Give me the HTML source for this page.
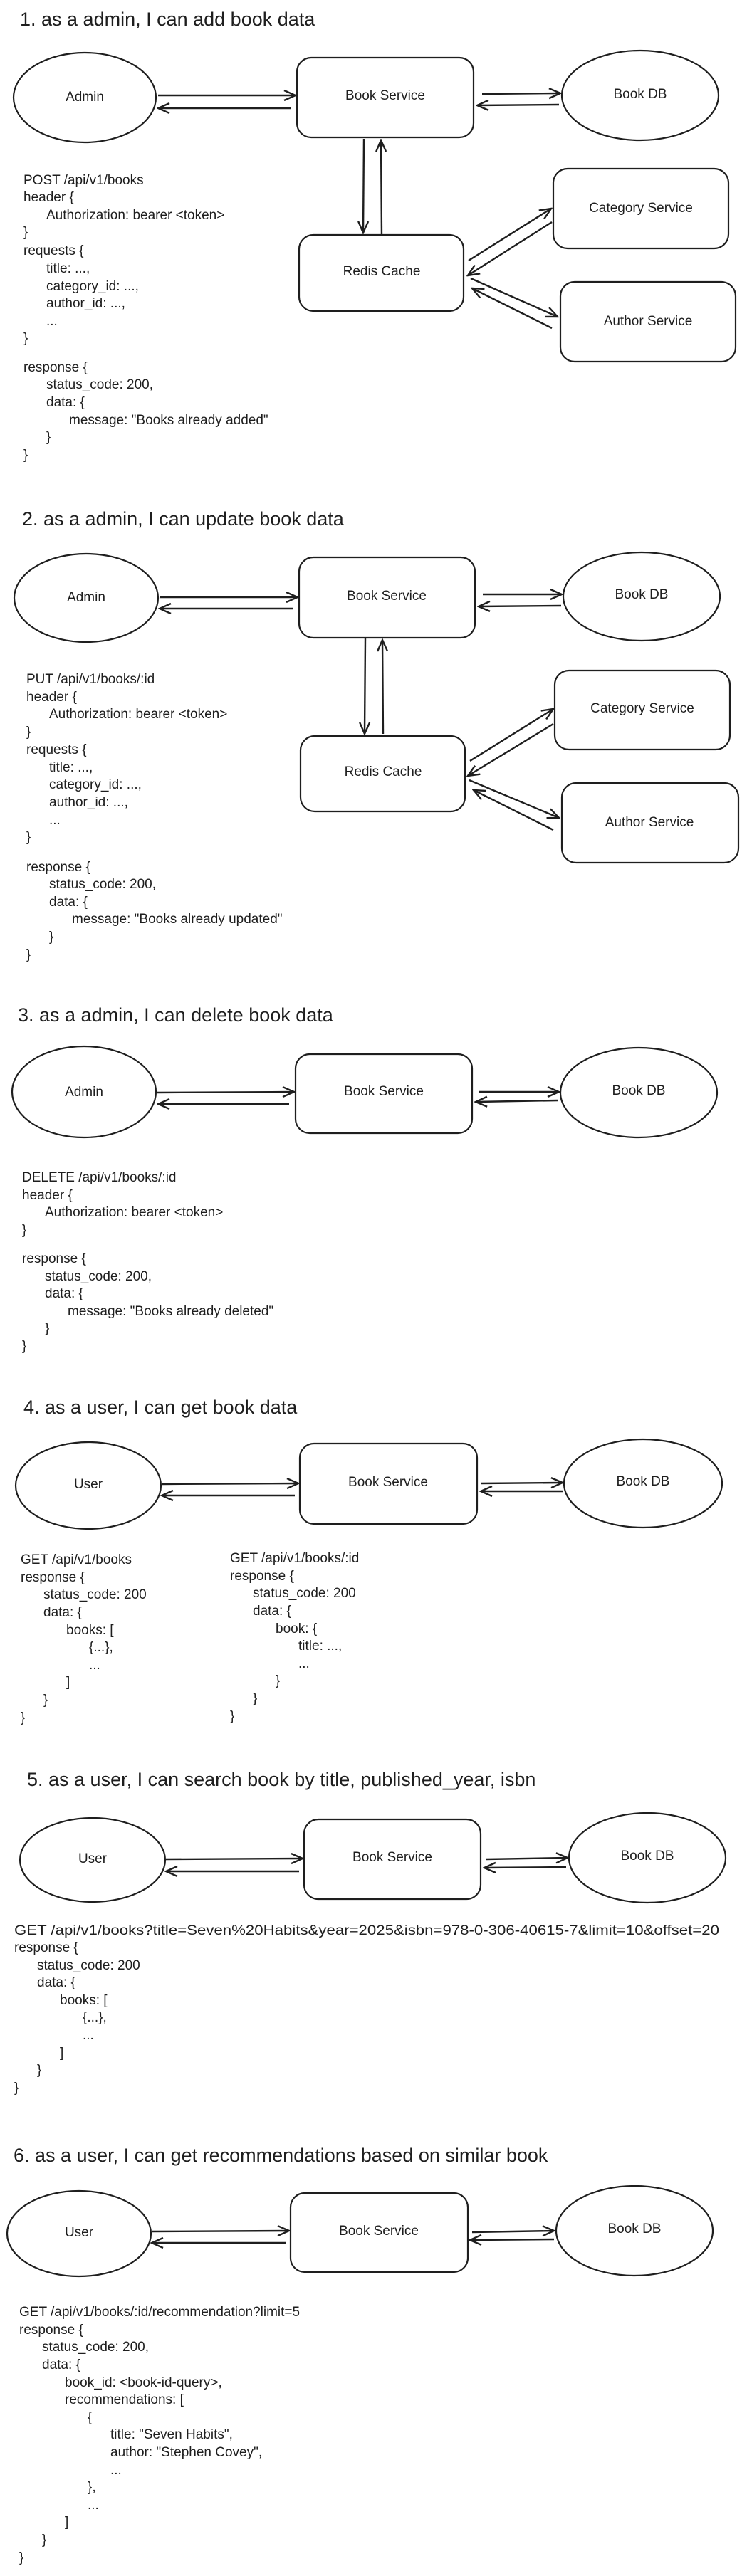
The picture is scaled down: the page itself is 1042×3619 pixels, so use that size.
<!DOCTYPE html>
<html><head><meta charset="utf-8"><style>
html,body{margin:0;padding:0;background:#fff;}
svg{display:block;}
.t{font-family:"Liberation Sans",sans-serif;font-size:27px;fill:#1e1e1e;}
.c{font-family:"Liberation Sans",sans-serif;font-size:19px;fill:#1e1e1e;}
.n{font-family:"Liberation Sans",sans-serif;font-size:19px;fill:#1e1e1e;text-anchor:middle;dominant-baseline:middle;}
.s{fill:none;stroke:#1e1e1e;stroke-width:2.2;}
.a{fill:none;stroke:#1e1e1e;stroke-width:2.4;marker-end:url(#ah2);}
</style></head><body>
<svg width="1042" height="3619" viewBox="0 0 1042 3619" xmlns="http://www.w3.org/2000/svg">
<defs>
<marker id="ah2" viewBox="0 0 20 20" refX="18" refY="10" markerWidth="20" markerHeight="20" markerUnits="userSpaceOnUse" orient="auto"><path d="M2,3 L18,10 L2,17" fill="none" stroke="#1e1e1e" stroke-width="2.4"/></marker></defs>

<!-- Section 1 -->
<text class="t" x="28" y="36">1. as a admin, I can add book data</text>
<ellipse class="s" cx="119" cy="137" rx="100" ry="63"/><text class="n" x="119" y="137">Admin</text>
<rect class="s" x="417" y="81" width="248" height="112" rx="20"/><text class="n" x="541" y="135">Book Service</text>
<ellipse class="s" cx="899" cy="134" rx="110" ry="63"/><text class="n" x="899" y="133">Book DB</text>
<line class="a" x1="222" y1="134" x2="415" y2="134"/>
<line class="a" x1="408" y1="152" x2="222" y2="152"/>
<line class="a" x1="677" y1="132" x2="787" y2="131"/>
<line class="a" x1="785" y1="147" x2="670" y2="148"/>
<line class="a" x1="511" y1="195" x2="510" y2="327"/>
<line class="a" x1="536" y1="329" x2="535" y2="197"/>
<rect class="s" x="420" y="330" width="231" height="107" rx="20"/><text class="n" x="536" y="382">Redis Cache</text>
<rect class="s" x="777" y="237" width="246" height="112" rx="20"/><text class="n" x="900" y="293">Category Service</text>
<rect class="s" x="787" y="396" width="246" height="112" rx="20"/><text class="n" x="910" y="452">Author Service</text>
<line class="a" x1="658" y1="366" x2="774" y2="293"/>
<line class="a" x1="775" y1="312" x2="657" y2="387"/>
<line class="a" x1="661" y1="391" x2="783" y2="445"/>
<line class="a" x1="775" y1="461" x2="663" y2="405"/>
<g class="c">
<text x="33" y="259">POST /api/v1/books</text>
<text x="33" y="283">header {</text>
<text x="65" y="308">Authorization: bearer &lt;token&gt;</text>
<text x="33" y="332">}</text>
<text x="33" y="358">requests {</text>
<text x="65" y="383">title: ...,</text>
<text x="65" y="408">category_id: ...,</text>
<text x="65" y="432">author_id: ...,</text>
<text x="65" y="457">...</text>
<text x="33" y="481">}</text>
<text x="33" y="522">response {</text>
<text x="65" y="546">status_code: 200,</text>
<text x="65" y="571">data: {</text>
<text x="97" y="596">message: "Books already added"</text>
<text x="65" y="620">}</text>
<text x="33" y="645">}</text>
</g>

<!-- Section 2 -->
<text class="t" x="31" y="738">2. as a admin, I can update book data</text>
<ellipse class="s" cx="121" cy="840" rx="101" ry="62"/><text class="n" x="121" y="840">Admin</text>
<rect class="s" x="420" y="783" width="247" height="113" rx="20"/><text class="n" x="543" y="838">Book Service</text>
<ellipse class="s" cx="901" cy="838" rx="110" ry="62"/><text class="n" x="901" y="836">Book DB</text>
<line class="a" x1="224" y1="839" x2="418" y2="839"/>
<line class="a" x1="411" y1="855" x2="224" y2="855"/>
<line class="a" x1="678" y1="835" x2="789" y2="835"/>
<line class="a" x1="788" y1="851" x2="672" y2="852"/>
<line class="a" x1="513" y1="897" x2="512" y2="1031"/>
<line class="a" x1="538" y1="1031" x2="537" y2="899"/>
<rect class="s" x="422" y="1034" width="231" height="106" rx="20"/><text class="n" x="538" y="1085">Redis Cache</text>
<rect class="s" x="779" y="942" width="246" height="111" rx="20"/><text class="n" x="902" y="996">Category Service</text>
<rect class="s" x="789" y="1100" width="248" height="112" rx="20"/><text class="n" x="912" y="1156">Author Service</text>
<line class="a" x1="660" y1="1069" x2="777" y2="996"/>
<line class="a" x1="777" y1="1017" x2="657" y2="1090"/>
<line class="a" x1="659" y1="1096" x2="785" y2="1149"/>
<line class="a" x1="777" y1="1166" x2="665" y2="1110"/>
<g class="c">
<text x="37" y="960">PUT /api/v1/books/:id</text>
<text x="37" y="985">header {</text>
<text x="69" y="1009">Authorization: bearer &lt;token&gt;</text>
<text x="37" y="1034">}</text>
<text x="37" y="1059">requests {</text>
<text x="69" y="1084">title: ...,</text>
<text x="69" y="1108">category_id: ...,</text>
<text x="69" y="1133">author_id: ...,</text>
<text x="69" y="1158">...</text>
<text x="37" y="1182">}</text>
<text x="37" y="1224">response {</text>
<text x="69" y="1248">status_code: 200,</text>
<text x="69" y="1273">data: {</text>
<text x="101" y="1297">message: "Books already updated"</text>
<text x="69" y="1322">}</text>
<text x="37" y="1347">}</text>
</g>

<!-- Section 3 -->
<text class="t" x="25" y="1435">3. as a admin, I can delete book data</text>
<ellipse class="s" cx="118" cy="1534" rx="101" ry="64"/><text class="n" x="118" y="1535">Admin</text>
<rect class="s" x="415" y="1481" width="248" height="111" rx="20"/><text class="n" x="539" y="1534">Book Service</text>
<ellipse class="s" cx="897" cy="1535" rx="110" ry="63"/><text class="n" x="897" y="1533">Book DB</text>
<line class="a" x1="220" y1="1535" x2="413" y2="1534"/>
<line class="a" x1="406" y1="1551" x2="222" y2="1551"/>
<line class="a" x1="673" y1="1534" x2="785" y2="1534"/>
<line class="a" x1="783" y1="1546" x2="668" y2="1548"/>
<g class="c">
<text x="31" y="1660">DELETE /api/v1/books/:id</text>
<text x="31" y="1685">header {</text>
<text x="63" y="1709">Authorization: bearer &lt;token&gt;</text>
<text x="31" y="1734">}</text>
<text x="31" y="1774">response {</text>
<text x="63" y="1799">status_code: 200,</text>
<text x="63" y="1823">data: {</text>
<text x="95" y="1848">message: "Books already deleted"</text>
<text x="63" y="1872">}</text>
<text x="31" y="1897">}</text>
</g>

<!-- Section 4 -->
<text class="t" x="33" y="1986">4. as a user, I can get book data</text>
<ellipse class="s" cx="124" cy="2087" rx="102" ry="61"/><text class="n" x="124" y="2086">User</text>
<rect class="s" x="421" y="2028" width="249" height="113" rx="20"/><text class="n" x="545" y="2083">Book Service</text>
<ellipse class="s" cx="903" cy="2084" rx="111" ry="62"/><text class="n" x="903" y="2082">Book DB</text>
<line class="a" x1="227" y1="2085" x2="419" y2="2084"/>
<line class="a" x1="414" y1="2101" x2="227" y2="2101"/>
<line class="a" x1="675" y1="2084" x2="790" y2="2083"/>
<line class="a" x1="790" y1="2095" x2="675" y2="2095"/>
<g class="c">
<text x="29" y="2197">GET /api/v1/books</text>
<text x="29" y="2222">response {</text>
<text x="61" y="2246">status_code: 200</text>
<text x="61" y="2271">data: {</text>
<text x="93" y="2296">books: [</text>
<text x="125" y="2320">{...},</text>
<text x="125" y="2345">...</text>
<text x="93" y="2369">]</text>
<text x="61" y="2394">}</text>
<text x="29" y="2419">}</text>
<text x="323" y="2195">GET /api/v1/books/:id</text>
<text x="323" y="2220">response {</text>
<text x="355" y="2244">status_code: 200</text>
<text x="355" y="2269">data: {</text>
<text x="387" y="2294">book: {</text>
<text x="419" y="2318">title: ...,</text>
<text x="419" y="2343">...</text>
<text x="387" y="2367">}</text>
<text x="355" y="2392">}</text>
<text x="323" y="2417">}</text>
</g>

<!-- Section 5 -->
<text class="t" x="38" y="2509">5. as a user, I can search book by title, published_year, isbn</text>
<ellipse class="s" cx="130" cy="2613" rx="102" ry="59"/><text class="n" x="130" y="2612">User</text>
<rect class="s" x="427" y="2556" width="248" height="112" rx="20"/><text class="n" x="551" y="2610">Book Service</text>
<ellipse class="s" cx="909" cy="2610" rx="110" ry="63"/><text class="n" x="909" y="2608">Book DB</text>
<line class="a" x1="233" y1="2612" x2="425" y2="2611"/>
<line class="a" x1="420" y1="2629" x2="233" y2="2629"/>
<line class="a" x1="683" y1="2612" x2="797" y2="2610"/>
<line class="a" x1="795" y1="2623" x2="680" y2="2624"/>
<g class="c">
<text x="20" y="2718" textLength="990" lengthAdjust="spacingAndGlyphs">GET /api/v1/books?title=Seven%20Habits&amp;year=2025&amp;isbn=978-0-306-40615-7&amp;limit=10&amp;offset=20</text>
<text x="20" y="2742">response {</text>
<text x="52" y="2767">status_code: 200</text>
<text x="52" y="2791">data: {</text>
<text x="84" y="2816">books: [</text>
<text x="116" y="2840">{...},</text>
<text x="116" y="2865">...</text>
<text x="84" y="2890">]</text>
<text x="52" y="2914">}</text>
<text x="20" y="2939">}</text>
</g>

<!-- Section 6 -->
<text class="t" x="19" y="3037">6. as a user, I can get recommendations based on similar book</text>
<ellipse class="s" cx="111" cy="3138" rx="101" ry="60"/><text class="n" x="111" y="3137">User</text>
<rect class="s" x="408" y="3081" width="249" height="111" rx="20"/><text class="n" x="532" y="3135">Book Service</text>
<ellipse class="s" cx="891" cy="3134" rx="110" ry="63"/><text class="n" x="891" y="3132">Book DB</text>
<line class="a" x1="213" y1="3135" x2="406" y2="3134"/>
<line class="a" x1="402" y1="3151" x2="213" y2="3151"/>
<line class="a" x1="663" y1="3136" x2="778" y2="3134"/>
<line class="a" x1="778" y1="3146" x2="660" y2="3147"/>
<g class="c">
<text x="27" y="3254">GET /api/v1/books/:id/recommendation?limit=5</text>
<text x="27" y="3279">response {</text>
<text x="59" y="3303">status_code: 200,</text>
<text x="59" y="3328">data: {</text>
<text x="91" y="3353">book_id: &lt;book-id-query&gt;,</text>
<text x="91" y="3377">recommendations: [</text>
<text x="123" y="3402">{</text>
<text x="155" y="3426">title: "Seven Habits",</text>
<text x="155" y="3451">author: "Stephen Covey",</text>
<text x="155" y="3476">...</text>
<text x="123" y="3500">},</text>
<text x="123" y="3525">...</text>
<text x="91" y="3549">]</text>
<text x="59" y="3574">}</text>
<text x="27" y="3599">}</text>
</g>
</svg>
</body></html>
